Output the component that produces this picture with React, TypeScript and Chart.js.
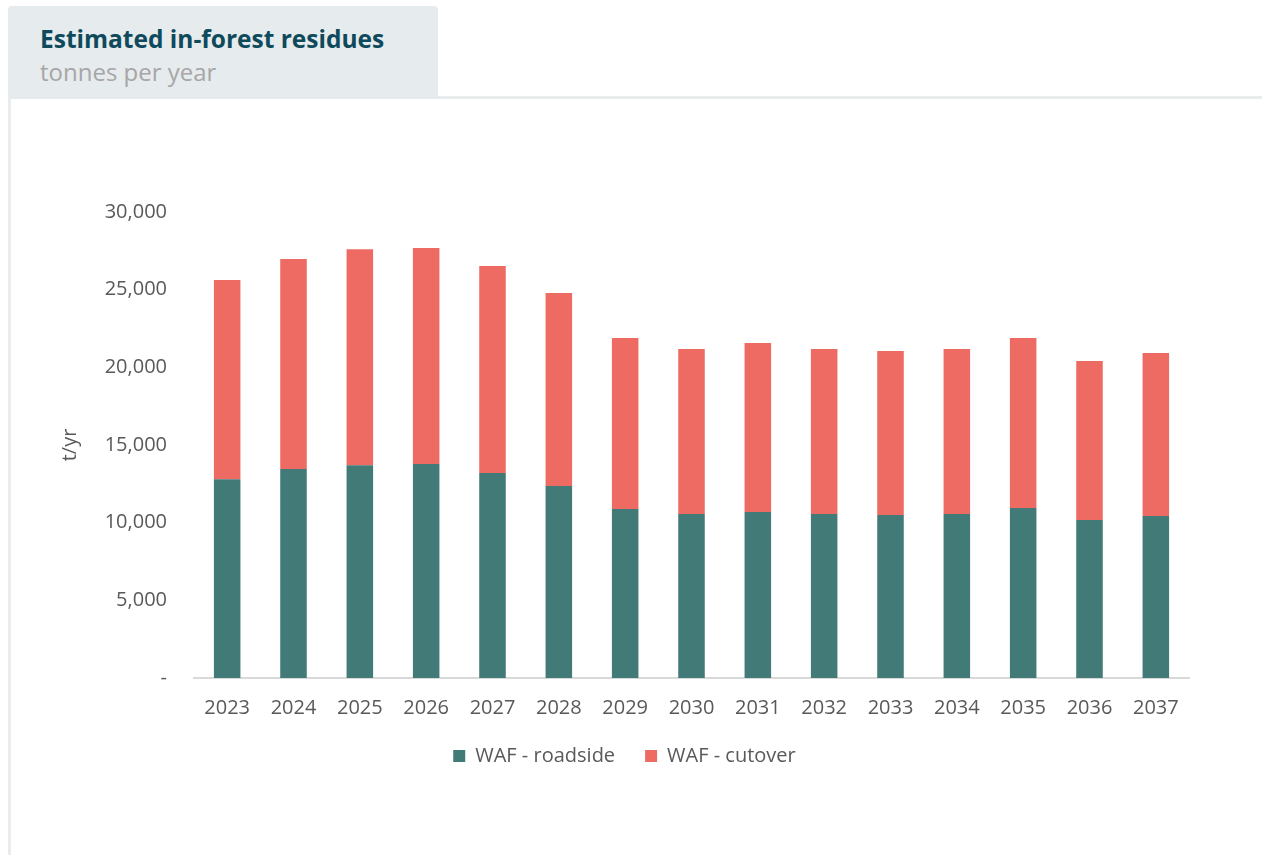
import React, { useEffect, useRef } from "react";
import { Chart, registerables } from "chart.js";

Chart.register(...registerables);

const years = ["2023","2024","2025","2026","2027","2028","2029","2030","2031","2032","2033","2034","2035","2036","2037"];
const roadside = [12800, 13450, 13700, 13780, 13200, 12360, 10880, 10560, 10690, 10560, 10490, 10560, 10940, 10170, 10430];
const cutover = [12820, 13520, 13900, 13900, 13320, 12420, 11010, 10620, 10880, 10620, 10560, 10620, 10950, 10240, 10490];
const yTicks = [0, 5000, 10000, 15000, 20000, 25000, 30000];

const FONT = "'Open Sans', sans-serif";

const legendShift = {
  id: "legendShift",
  afterLayout(chart: any) {
    if (chart.legend) {
      chart.legend.top -= 14;
      chart.legend.bottom -= 14;
      chart.legend.left += 10;
      chart.legend.right += 10;
    }
  },
};

export default function App() {
  const ref = useRef<HTMLCanvasElement>(null);
  useEffect(() => {
    if (!ref.current) return;
    const chart = new Chart(ref.current, {
      type: "bar",
      data: {
        labels: years,
        datasets: [
          { label: "WAF - roadside", data: roadside, backgroundColor: "#427a77", barPercentage: 0.4, categoryPercentage: 1 },
          { label: "WAF - cutover", data: cutover, backgroundColor: "#ee6b63", barPercentage: 0.4, categoryPercentage: 1 },
        ],
      },
      plugins: [legendShift],
      options: {
        animation: false,
        responsive: false,
        maintainAspectRatio: false,
        layout: { padding: { left: 29, right: 72, top: 112, bottom: 10 } },
        plugins: {
          tooltip: { enabled: false },
          legend: {
            position: "bottom",
            labels: { boxWidth: 12, boxHeight: 12, color: "#595959", font: { family: FONT, size: 20 }, padding: 30 },
          },
        },
        scales: {
          x: {
            stacked: true,
            grid: { display: false },
            border: { display: true, color: "#d9d9d9", width: 2 },
            ticks: { color: "#595959", font: { family: FONT, size: 20 }, padding: 10, maxRotation: 0 },
          },
          y: {
            stacked: true,
            min: 0,
            max: 30000,
            afterBuildTicks: (s: any) => { s.ticks = yTicks.map((v) => ({ value: v })); },
            afterFit: (s: any) => { s.width = 154; },
            grid: { display: false, drawTicks: false },
            border: { display: false },
            title: { display: true, text: "t/yr", color: "#595959", font: { family: FONT, size: 20 }, padding: { top: 18, bottom: 0 } },
            ticks: {
              color: "#595959",
              font: { family: FONT, size: 20 },
              padding: 27,
              callback: (v: any) => (Number(v) === 0 ? "-" : Number(v).toLocaleString("en-US")),
            },
          },
        },
      },
    });
    return () => chart.destroy();
  }, []);

  return (
    <div style={{ position: "absolute", left: 0, top: 0, width: 1263, height: 855, background: "#fff", overflow: "hidden" }}>
      <div style={{ position: "absolute", left: 8, top: 6, width: 430, height: 93, background: "#e6ebed", borderRadius: "4px 4px 0 0" }}>
        <div style={{ position: "absolute", left: 32, top: 16, fontFamily: FONT, fontWeight: 700, fontSize: 24.5, color: "#0e4a5c", whiteSpace: "nowrap" }}>
          Estimated in-forest residues
        </div>
        <div style={{ position: "absolute", left: 32, top: 49, fontFamily: FONT, fontSize: 24, color: "#a6a6a6", whiteSpace: "nowrap" }}>
          tonnes per year
        </div>
      </div>
      <div style={{ position: "absolute", left: 438, top: 96, width: 824, height: 3, background: "#e8eced" }} />
      <div style={{ position: "absolute", left: 8, top: 99, width: 3, height: 756, background: "#e8eced" }} />
      <canvas ref={ref} width={1250} height={700} style={{ position: "absolute", left: 11, top: 100, width: 1250, height: 700 }} />
    </div>
  );
}
